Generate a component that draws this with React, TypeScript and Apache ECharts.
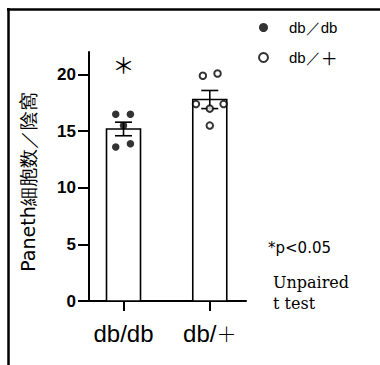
import React, { useEffect, useRef } from "react";
import * as echarts from "echarts";

const categories = ["db/db", "db/＋"];
const legendNames = ["db／db", "db／＋"];
const means = [15.2, 17.8];
const sems = [0.6, 0.8];
const dbdbValues = [16.5, 16.5, 15.5, 13.6, 13.9];
const dbdbJitter = [-0.09, 0.08, 0, -0.09, 0.08];
const dbplusValues = [19.9, 20.1, 17.4, 17.0, 17.4, 15.5];
const dbplusJitter = [-0.08, 0.09, -0.16, 0, 0.16, 0];
const yTicks = [0, 5, 10, 15, 20];
const yAxisName = "Paneth細胞数／陰窩";
const sigMark = "＊";
const noteLines = ["*p<0.05", "Unpaired", "t test"];

// split a label so that full-width plus can be styled with a CJK font
const richPlus = (s: string) =>
  s.split("＋").map((part, i, arr) => (part ? `{a|${part}}` : "") + (i < arr.length - 1 ? "{p|＋}" : "")).join("");

export default function App() {
  const ref = useRef<HTMLDivElement>(null);
  useEffect(() => {
    if (!ref.current) return;
    const chart = echarts.init(ref.current, null, { renderer: "svg" });
    const barData = means.map((m, i) => [i, m]);
    const errData = means.map((m, i) => [i, m, sems[i]]);
    const dbdbData = dbdbValues.map((v, i) => [0 + dbdbJitter[i], v]);
    const dbplusData = dbplusValues.map((v, i) => [1 + dbplusJitter[i], v]);
    chart.setOption({
      animation: false,
      grid: { left: 89, top: 52, width: 157, height: 249 },
      legend: {
        orient: "vertical",
        left: 258,
        top: 20,
        padding: 0,
        itemWidth: 9,
        itemHeight: 9,
        itemGap: 14,
        data: legendNames,
        formatter: (name: string) => "{s|}" + richPlus(name),
        textStyle: {
          color: "#000",
          rich: {
            s: { width: 16, height: 18 },
            a: { fontSize: 15, lineHeight: 18, fontFamily: "Liberation Sans", color: "#000" },
            p: { fontSize: 17, lineHeight: 18, fontFamily: "Noto Sans CJK JP", color: "#000" },
          },
        },
      },
      xAxis: {
        type: "value",
        min: -0.4,
        max: 1.42,
        splitLine: { show: false },
        axisLine: { show: true, onZero: true, lineStyle: { color: "#000", width: 2 } },
        axisTick: { show: true, length: 10, customValues: [0, 1], lineStyle: { color: "#000", width: 2 } },
        axisLabel: {
          customValues: [0, 1],
          formatter: (v: number) => richPlus(categories[Math.round(v)]),
          margin: 19,
          color: "#000",
          rich: {
            a: { fontSize: 24, lineHeight: 26, fontFamily: "Liberation Sans", color: "#000" },
            p: { fontSize: 20, lineHeight: 26, fontFamily: "Noto Sans CJK JP", fontWeight: 300, color: "#000" },
          },
        },
      },
      yAxis: {
        type: "value",
        min: 0,
        max: 22,
        splitLine: { show: false },
        axisLine: { show: true, onZero: false, lineStyle: { color: "#000", width: 2 } },
        axisTick: { show: true, length: 11, customValues: yTicks, lineStyle: { color: "#000", width: 2 } },
        axisLabel: {
          customValues: yTicks,
          margin: 13,
          fontSize: 17,
          fontWeight: "bold",
          fontFamily: "Liberation Sans",
          color: "#000",
        },
        name: yAxisName,
        nameLocation: "middle",
        nameRotate: 90,
        nameGap: 52,
        nameTextStyle: { fontSize: 19, fontFamily: "DejaVu Sans", color: "#000", padding: [0, 11, 0, 0] },
      },
      series: [
        {
          type: "custom",
          name: "bars",
          data: barData,
          encode: { x: 0, y: 1 },
          renderItem: (params: any, api: any) => {
            const x = api.value(0);
            const y = api.value(1);
            const p0 = api.coord([x, 0]);
            const p1 = api.coord([x, y]);
            return {
              type: "rect",
              shape: { x: p1[0] - 17, y: p1[1], width: 34, height: p0[1] - p1[1] },
              style: { fill: "#fff", stroke: "#000", lineWidth: 1.6 },
            };
          },
        },
        {
          type: "custom",
          name: "err",
          data: errData,
          encode: { x: 0, y: 1 },
          z: 3,
          renderItem: (params: any, api: any) => {
            const x = api.value(0);
            const m = api.value(1);
            const s = api.value(2);
            const top = api.coord([x, m + s]);
            const bot = api.coord([x, m - s]);
            const hw = 8.5;
            const st = { stroke: "#000", lineWidth: 1.6 };
            return {
              type: "group",
              children: [
                { type: "line", shape: { x1: top[0], y1: top[1], x2: bot[0], y2: bot[1] }, style: st },
                { type: "line", shape: { x1: top[0] - hw, y1: top[1], x2: top[0] + hw, y2: top[1] }, style: st },
                { type: "line", shape: { x1: bot[0] - hw, y1: bot[1], x2: bot[0] + hw, y2: bot[1] }, style: st },
              ],
            };
          },
        },
        {
          type: "scatter",
          name: legendNames[0],
          data: dbdbData,
          symbol: "circle",
          symbolSize: 7.5,
          z: 4,
          itemStyle: { color: "#000" },
        },
        {
          type: "scatter",
          name: legendNames[1],
          data: dbplusData,
          symbol: "circle",
          symbolSize: 6.5,
          z: 4,
          itemStyle: { color: "#fff", borderColor: "#000", borderWidth: 2 },
        },
      ],
      graphic: [
        { type: "line", shape: { x1: 7, y1: 9.5, x2: 380, y2: 9.5 }, style: { stroke: "#000", lineWidth: 2.5 } },
        { type: "line", shape: { x1: 8.5, y1: 8, x2: 8.5, y2: 365 }, style: { stroke: "#000", lineWidth: 2.5 } },
        {
          type: "text",
          x: 123.5,
          y: 63,
          style: { text: sigMark, fontSize: 22, fontFamily: "Noto Sans CJK JP", fill: "#000", align: "center", verticalAlign: "middle" },
        },
        {
          type: "text",
          x: 268,
          y: 248,
          style: { text: noteLines[0], fontSize: 15, fontFamily: "DejaVu Sans", fill: "#000", verticalAlign: "middle" },
        },
        {
          type: "text",
          x: 273,
          y: 282,
          style: { text: noteLines[1], fontSize: 16, fontFamily: "DejaVu Serif", fill: "#000", verticalAlign: "middle" },
        },
        {
          type: "text",
          x: 273,
          y: 303,
          style: { text: noteLines[2], fontSize: 16, fontFamily: "DejaVu Serif", fill: "#000", verticalAlign: "middle" },
        },
      ],
    });
    return () => chart.dispose();
  }, []);
  return (
    <div
      ref={ref}
      style={{ position: "fixed", left: 0, top: 0, width: 380, height: 365, background: "#fff" }}
    />
  );
}
